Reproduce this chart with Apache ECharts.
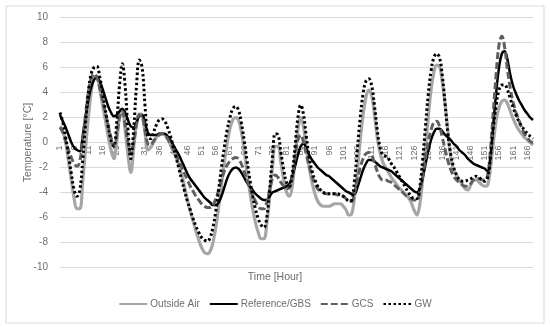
<!DOCTYPE html>
<html><head><meta charset="utf-8">
<script src="https://cdn.jsdelivr.net/npm/echarts@6/dist/echarts.min.js"></script>
<style>html,body{margin:0;padding:0;background:#fff}#c{width:550px;height:327px}</style>
</head><body><div id="c"></div>
<script>
const hours = Array.from({length:168},(_, i)=>String(i+1));
const seriesNames = ["Outside Air","Reference/GBS","GCS","GW"];
const outsideAir = [1.3,0.9,0.0,-1.5,-3.0,-4.5,-5.3,-5.3,-3.2,-0.5,2.0,4.0,5.2,5.3,4.3,3.0,1.8,0.5,-0.6,-1.3,0.0,2.0,2.5,1.0,-1.0,-2.4,-0.5,1.5,2.3,2.2,0.8,-0.6,-0.4,0.0,0.4,0.7,0.7,0.6,0.3,-0.2,-0.7,-1.2,-1.8,-2.6,-3.6,-4.6,-5.5,-6.3,-7.1,-7.8,-8.4,-8.8,-8.9,-8.7,-8.0,-6.8,-5.2,-3.4,-1.6,-0.1,1.1,1.8,2.0,1.8,0.9,-0.6,-2.3,-3.9,-5.3,-6.4,-7.2,-7.7,-7.7,-6.5,-4.4,-2.0,-0.3,-0.3,-1.6,-3.0,-4.0,-4.3,-3.5,-1.2,1.0,2.0,1.2,-0.5,-2.0,-3.2,-4.1,-4.7,-5.0,-5.1,-5.1,-5.1,-5.0,-4.9,-4.9,-4.9,-5.1,-5.4,-5.8,-5.7,-4.3,-2.2,0.2,2.2,3.6,4.2,3.8,2.3,0.4,-0.8,-1.6,-2.0,-2.4,-2.8,-3.1,-3.4,-3.7,-3.9,-4.2,-4.4,-4.8,-5.4,-5.8,-5.0,-3.0,-0.5,2.0,4.2,5.6,6.2,6.1,4.8,3.0,0.8,-1.2,-2.2,-2.6,-3.0,-3.3,-3.7,-3.8,-3.4,-3.0,-3.0,-3.2,-3.4,-3.5,-3.4,-2.0,0.0,1.8,2.8,3.3,3.4,3.1,2.5,1.9,1.4,1.0,0.7,0.4,0.2,0.0,-0.2];
const referenceGBS = [2.2,1.7,1.2,0.6,0.0,-0.4,-0.6,-0.7,0.5,2.0,3.4,4.4,5.0,5.2,4.9,4.3,3.6,2.9,2.4,2.1,2.2,2.5,2.7,2.4,1.8,1.3,1.2,1.6,2.1,2.2,1.6,0.8,0.6,0.6,0.6,0.7,0.7,0.7,0.5,0.2,-0.2,-0.6,-1.0,-1.5,-2.0,-2.5,-2.9,-3.2,-3.5,-3.8,-4.1,-4.4,-4.6,-4.8,-5.0,-5.0,-4.8,-4.3,-3.6,-2.9,-2.4,-2.1,-2.0,-2.1,-2.4,-2.8,-3.2,-3.5,-3.8,-4.1,-4.3,-4.5,-4.6,-4.6,-4.3,-4.0,-3.9,-3.8,-3.7,-3.6,-3.5,-3.3,-2.7,-1.9,-1.0,-0.3,-0.1,-0.5,-1.0,-1.4,-1.7,-2.0,-2.2,-2.4,-2.6,-2.7,-2.9,-3.1,-3.3,-3.5,-3.7,-3.9,-4.0,-4.1,-4.1,-3.6,-2.9,-2.2,-1.7,-1.4,-1.4,-1.5,-1.7,-1.9,-2.0,-2.1,-2.2,-2.3,-2.5,-2.7,-2.9,-3.1,-3.3,-3.5,-3.7,-3.9,-4.0,-3.7,-2.9,-1.8,-0.7,0.2,0.8,1.1,1.1,0.9,0.6,0.4,0.2,-0.1,-0.3,-0.6,-0.8,-1.0,-1.3,-1.5,-1.7,-1.8,-1.9,-2.0,-2.1,-2.3,-1.0,1.5,4.0,6.0,7.1,7.3,6.6,5.4,4.5,3.9,3.4,3.0,2.6,2.3,2.0,1.8];
const gcs = [1.2,0.8,0.1,-0.6,-1.2,-1.7,-1.9,-1.5,0.2,2.2,4.0,5.1,5.5,5.2,4.4,3.4,2.4,1.4,0.4,-0.3,0.5,2.0,2.5,1.4,0.0,-0.9,0.0,1.4,2.2,2.1,1.0,-0.1,-0.2,0.1,0.4,0.6,0.7,0.6,0.3,-0.1,-0.5,-1.0,-1.5,-2.0,-2.5,-3.0,-3.5,-3.9,-4.3,-4.6,-4.9,-5.1,-5.2,-5.2,-5.0,-4.5,-3.8,-3.0,-2.3,-1.8,-1.5,-1.3,-1.2,-1.3,-1.7,-2.3,-3.0,-3.6,-4.2,-4.7,-5.1,-5.3,-5.3,-4.8,-3.8,-2.9,-2.6,-2.8,-3.2,-3.5,-3.7,-3.6,-2.8,-1.2,0.2,0.6,0.0,-1.0,-1.9,-2.7,-3.3,-3.7,-3.9,-4.0,-4.1,-4.1,-4.1,-4.1,-4.2,-4.2,-4.3,-4.5,-4.7,-4.7,-4.0,-3.0,-2.0,-1.3,-0.9,-0.8,-1.0,-1.6,-2.3,-2.8,-3.0,-3.0,-3.1,-3.2,-3.4,-3.6,-3.8,-4.0,-4.2,-4.4,-4.5,-4.6,-4.6,-4.0,-2.8,-1.3,0.0,1.0,1.6,1.7,1.3,0.4,-0.6,-1.5,-2.2,-2.7,-3.0,-3.2,-3.4,-3.5,-3.5,-3.3,-3.0,-2.9,-2.9,-3.0,-3.0,-2.6,-0.5,2.5,5.5,7.8,8.5,7.6,5.8,4.3,3.2,2.4,1.8,1.2,0.7,0.4,0.1,0.0];
const gw = [2.4,1.6,0.4,-1.0,-2.5,-3.8,-4.3,-3.8,-1.5,1.5,4.0,5.5,6.0,6.1,5.3,4.0,2.6,1.3,0.2,-0.3,1.5,4.5,6.3,4.5,1.0,-1.3,1.0,4.5,6.6,6.0,3.0,0.5,0.3,0.8,1.4,1.8,1.9,1.7,1.2,0.5,-0.3,-1.2,-2.1,-3.0,-3.9,-4.7,-5.4,-6.1,-6.7,-7.2,-7.6,-7.8,-7.9,-7.6,-6.8,-5.5,-3.8,-2.0,-0.4,1.0,2.0,2.7,2.9,2.6,1.6,0.2,-1.4,-2.9,-4.2,-5.3,-6.1,-6.6,-6.8,-6.0,-3.8,-1.2,0.7,0.6,-0.8,-2.2,-3.2,-3.5,-2.5,-0.3,2.0,3.0,2.2,0.4,-1.2,-2.3,-3.0,-3.5,-3.8,-4.0,-4.1,-4.1,-4.1,-4.1,-4.1,-4.2,-4.3,-4.5,-4.7,-4.6,-3.0,-0.5,2.0,3.9,4.9,5.1,4.6,3.0,1.0,-0.4,-1.0,-1.1,-1.3,-1.7,-2.0,-2.4,-2.8,-3.2,-3.6,-4.0,-4.3,-4.5,-4.5,-3.6,-1.5,1.2,3.8,5.7,6.8,7.1,6.8,5.3,3.0,0.6,-1.0,-2.0,-2.6,-3.0,-3.1,-3.1,-3.0,-2.9,-2.8,-2.7,-2.8,-3.0,-3.1,-2.8,-1.2,1.2,3.0,4.2,4.6,4.6,4.2,3.5,2.8,2.2,1.7,1.3,1.0,0.7,0.5,0.3];

const FONT = "Liberation Sans";
const TXT = "#6e6e6e";
const chart = echarts.init(document.getElementById('c'), null, {renderer:'canvas'});
chart.setOption({
  animation:false,
  backgroundColor:'#fff',
  textStyle:{fontFamily:FONT},
  graphic:[{type:'rect',shape:{x:6,y:6,width:538,height:317},style:{fill:'none',stroke:'#d9d9d9',lineWidth:1},silent:true,z:-1}],
  title:{text:'Time [Hour]',left:'center',top:272,padding:0,
    textStyle:{fontSize:10.5,fontWeight:'normal',color:TXT,fontFamily:FONT}},
  legend:{bottom:13,left:'center',itemWidth:28,itemHeight:8,itemGap:9,
    itemStyle:{opacity:0},
    textStyle:{fontSize:10,color:TXT,fontFamily:FONT,padding:[0,0,0,-2]},
    data:seriesNames},
  grid:{left:60,right:17,top:17.5,bottom:59.5,containLabel:false},
  xAxis:{type:'category',data:hours,boundaryGap:false,position:'bottom',offset:-125,
    axisLine:{onZero:false,lineStyle:{color:'#d9d9d9'}},
    axisTick:{show:false},
    axisLabel:{interval:4,rotate:90,fontSize:9,color:TXT,margin:3,fontFamily:FONT},
    splitLine:{show:false}},
  yAxis:{type:'value',min:-10,max:10,interval:2,
    name:'Temperature [°C]',nameLocation:'middle',nameGap:26,nameMoveOverlap:false,
    nameTextStyle:{fontSize:10.5,color:TXT,fontFamily:FONT},
    axisLine:{show:false},axisTick:{show:false},
    axisLabel:{fontSize:10,color:TXT,margin:12,fontFamily:FONT},
    splitLine:{lineStyle:{color:'#d9d9d9',width:1}}},
  series:[
    {name:seriesNames[0],type:'line',data:outsideAir,symbol:'none',smooth:0.4,
      lineStyle:{color:'#a6a6a6',width:3.2},itemStyle:{color:'#a6a6a6'}},
    {name:seriesNames[1],type:'line',data:referenceGBS,symbol:'none',smooth:0.4,
      lineStyle:{color:'#000000',width:2.5},itemStyle:{color:'#000000'}},
    {name:seriesNames[2],type:'line',data:gcs,symbol:'none',smooth:0.4,
      lineStyle:{color:'#5f5f5f',width:3,type:[7,3]},itemStyle:{color:'#5f5f5f'}},
    {name:seriesNames[3],type:'line',data:gw,symbol:'none',smooth:0.4,
      lineStyle:{color:'#000000',width:3,type:[2.5,2.5]},itemStyle:{color:'#000000'}}
  ]
});
</script></body></html>
